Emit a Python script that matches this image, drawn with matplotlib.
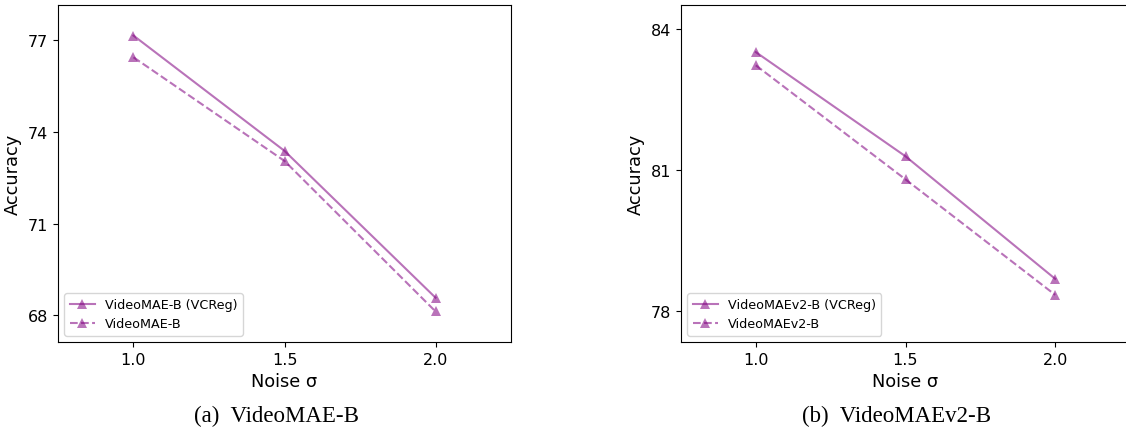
import matplotlib
matplotlib.use("Agg")
import matplotlib.pyplot as plt

# Noise levels on the x axis
noise = [1.0, 1.5, 2.0]

# VideoMAE-B accuracies
mae_vcreg = [77.15, 73.38, 68.58]
mae_base = [76.44, 73.05, 68.13]
mae_ticks = [68, 71, 74, 77]

# VideoMAEv2-B accuracies
mae2_vcreg = [83.50, 81.29, 78.69]
mae2_base = [83.22, 80.80, 78.35]
mae2_ticks = [78, 81, 84]

color = "purple"
W, H = 1126, 431

fig = plt.figure(figsize=(W / 100, H / 100), dpi=100)
ax1 = fig.add_axes([58 / W, 1 - 343 / H, 453 / W, 337 / H])
ax2 = fig.add_axes([681 / W, 1 - 343 / H, 449 / W, 337 / H])

panels = [
    (ax1, mae_vcreg, mae_base, mae_ticks, "VideoMAE-B"),
    (ax2, mae2_vcreg, mae2_base, mae2_ticks, "VideoMAEv2-B"),
]

for ax, vc, base, ticks, name in panels:
    ax.plot(noise, vc, marker="^", linestyle="-", color=color, alpha=0.55,
            markersize=7, markeredgewidth=0, label=name + " (VCReg)")
    ax.plot(noise, base, marker="^", linestyle="--", color=color, alpha=0.55,
            markersize=7, markeredgewidth=0, label=name)
    ax.set_xlim(0.75, 2.25)
    ax.set_ylim(min(vc + base) - 1, max(vc + base) + 1)
    ax.set_xticks(noise)
    ax.set_yticks(ticks)
    ax.tick_params(labelsize=11.5)
    ax.set_xlabel("Noise σ", fontsize=12.8)
    ax.set_ylabel("Accuracy", fontsize=12.8)
    ax.legend(loc="lower left", fontsize=9.2)

fig.text(276 / W, 1 - 416 / H, "(a)  VideoMAE-B", ha="center", va="center",
         family="Liberation Serif", fontsize=16.5)
fig.text(897 / W, 1 - 416 / H, "(b)  VideoMAEv2-B", ha="center", va="center",
         family="Liberation Serif", fontsize=16.5)

fig.savefig("out.png", dpi=100)
plt.close(fig)
